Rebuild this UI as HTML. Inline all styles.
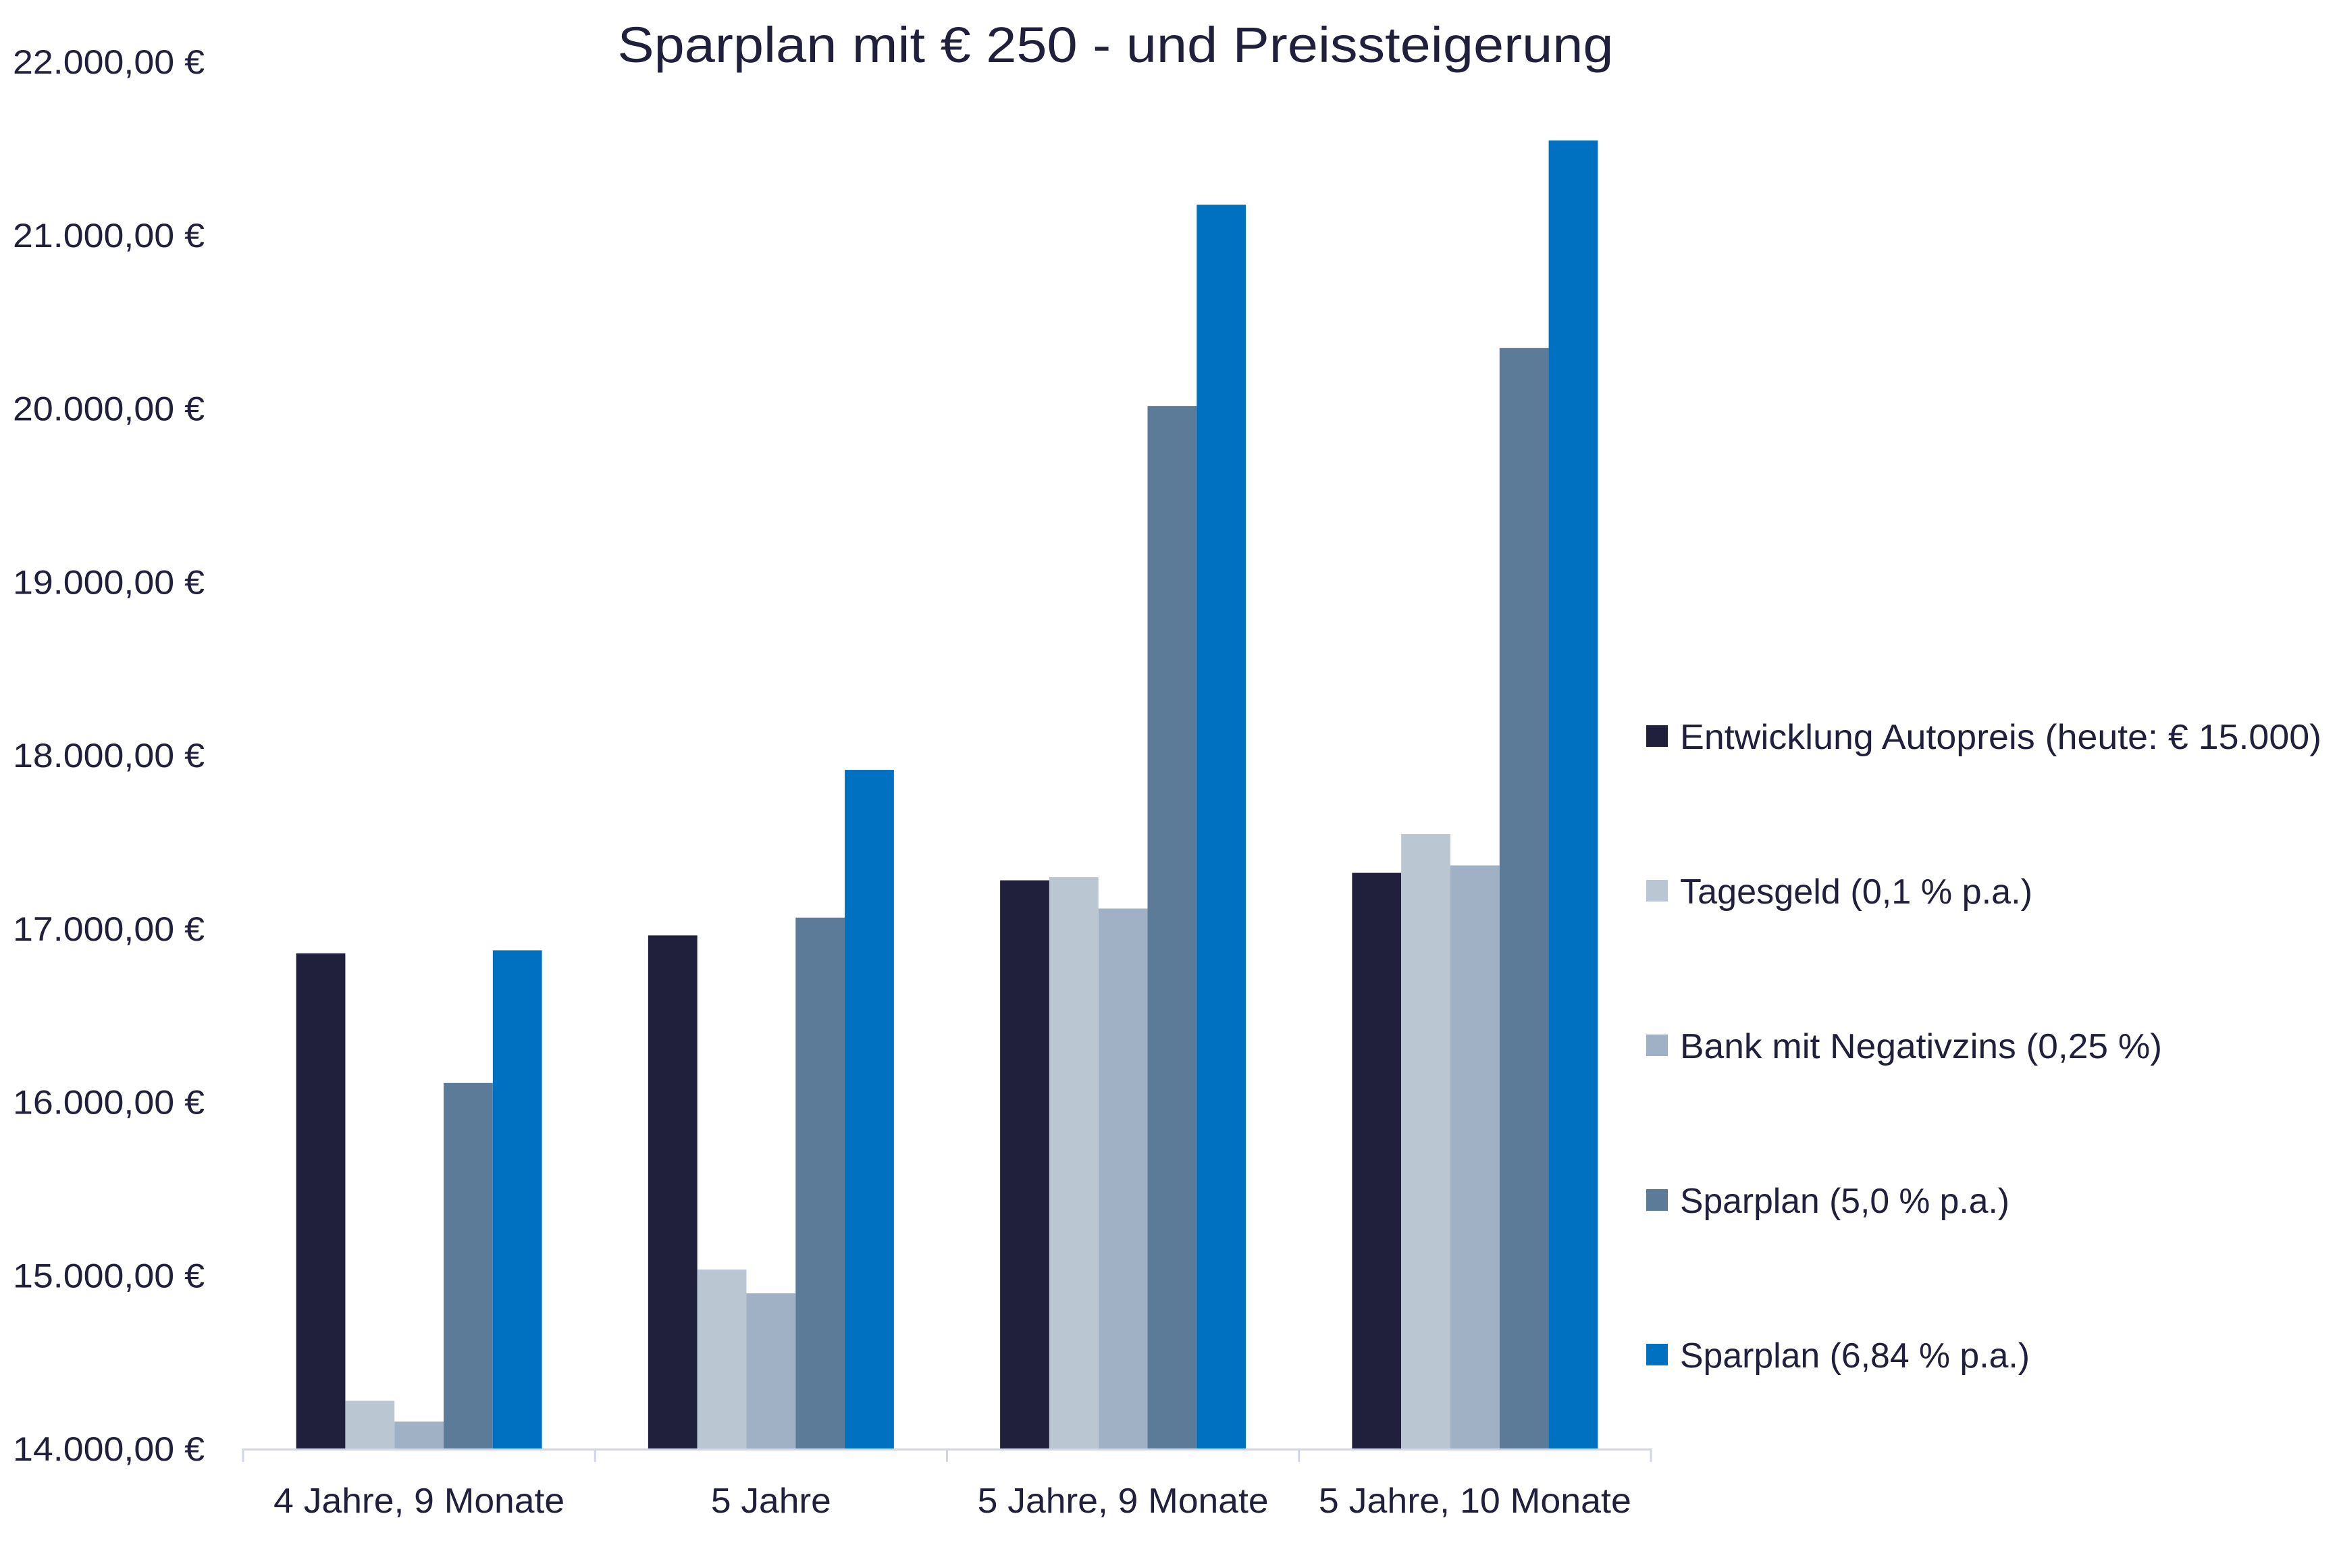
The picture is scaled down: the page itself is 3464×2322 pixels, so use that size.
<!DOCTYPE html>
<html><head><meta charset="utf-8"><style>
html,body{margin:0;padding:0;background:#fff;}
svg{display:block;}
text{font-family:"Liberation Sans",sans-serif;fill:#20203d;}
</style></head><body>
<svg id="chart" width="3464" height="2322" viewBox="0 0 3464 2322" xmlns="http://www.w3.org/2000/svg">
<text x="1652" y="92" font-size="74" text-anchor="middle" textLength="1475" lengthAdjust="spacingAndGlyphs">Sparplan mit € 250 - und Preissteigerung</text>
<g id="yaxis"></g>
<g id="bars"></g>
<g id="xaxis"></g>
<g id="legend"></g>
</svg>
<script>
const categories = ["4 Jahre, 9 Monate", "5 Jahre", "5 Jahre, 9 Monate", "5 Jahre, 10 Monate"];
const seriesNames = ["Entwicklung Autopreis (heute: € 15.000)", "Tagesgeld (0,1 % p.a.)", "Bank mit Negativzins (0,25 %)", "Sparplan (5,0 % p.a.)", "Sparplan (6,84 % p.a.)"];
const autopreis = [16856, 16959, 17277, 17320];
const tagesgeld = [14275, 15032, 17295, 17544];
const negativzins = [14155, 14895, 17114, 17363];
const sparplan5 = [16108, 17062, 20013, 20348];
const sparplan684 = [16873, 17914, 21174, 21544];
const yTicks = [14000, 15000, 16000, 17000, 18000, 19000, 20000, 21000, 22000];
const yTickLabels = ["14.000,00 €", "15.000,00 €", "16.000,00 €", "17.000,00 €", "18.000,00 €", "19.000,00 €", "20.000,00 €", "21.000,00 €", "22.000,00 €"];

const series = [autopreis, tagesgeld, negativzins, sparplan5, sparplan684];
const colors = ["#20203d", "#bac7d3", "#a0b1c5", "#5c7b99", "#0070c0"];
const NS = "http://www.w3.org/2000/svg";
const X0 = 360, X1 = 2445, Y0 = 2145, Y1 = 91, VMIN = 14000, VMAX = 22000;
const groupW = (X1 - X0) / categories.length;
const barW = 72.8;
function y(v){ return Y0 - (v - VMIN) / (VMAX - VMIN) * (Y0 - Y1); }
function xGroup(i){ return X0 + i * groupW; }
function mk(tag, attrs, parent){ const e = document.createElementNS(NS, tag); for (const k in attrs) e.setAttribute(k, attrs[k]); parent.appendChild(e); return e; }

const yaxis = document.getElementById('yaxis');
yTicks.forEach((t, i) => {
  const el = mk('text', {x: 303, y: y(t) + 18, 'font-size': 50, 'text-anchor': 'end', textLength: 284, lengthAdjust: 'spacingAndGlyphs'}, yaxis);
  
  
  el.textContent = yTickLabels[i];
});

const bars = document.getElementById('bars');
const offset = (groupW - barW * series.length) / 2;
series.forEach((s, si) => {
  s.forEach((v, ci) => {
    const r = mk('rect', {x: xGroup(ci) + offset + si * barW, y: y(v), width: barW, height: Y0 - y(v), fill: colors[si]}, bars);
    
    
  });
});

const xaxis = document.getElementById('xaxis');
const axl = mk('line', {x1: X0, y1: Y0 + 1.5, x2: X1, y2: Y0 + 1.5, stroke: '#d2d4e8', 'stroke-width': 3}, xaxis);


for (let i = 0; i <= categories.length; i++) {
  const tk = mk('line', {x1: xGroup(i), y1: Y0, x2: xGroup(i), y2: Y0 + 20, stroke: '#d2d4e8', 'stroke-width': 3}, xaxis);
  
  
}
const catW = [431, 178, 431, 463];
categories.forEach((c, i) => {
  const el = mk('text', {x: xGroup(i) + groupW / 2, y: 2240, 'font-size': 52, 'text-anchor': 'middle', textLength: catW[i], lengthAdjust: 'spacingAndGlyphs'}, xaxis);
  
  
  el.textContent = c;
});

const legend = document.getElementById('legend');
const legW = [950, 522, 714, 488, 518];
seriesNames.forEach((n, i) => {
  const cy = 1090 + i * 229;
  const sq = mk('rect', {x: 2438, y: cy - 16, width: 32, height: 32, fill: colors[i]}, legend);
  
  
  const t = mk('text', {x: 2488, y: cy + 19, 'font-size': 52, textLength: legW[i], lengthAdjust: 'spacingAndGlyphs'}, legend);
  
  
  t.textContent = n;
});
</script>
</body></html>
